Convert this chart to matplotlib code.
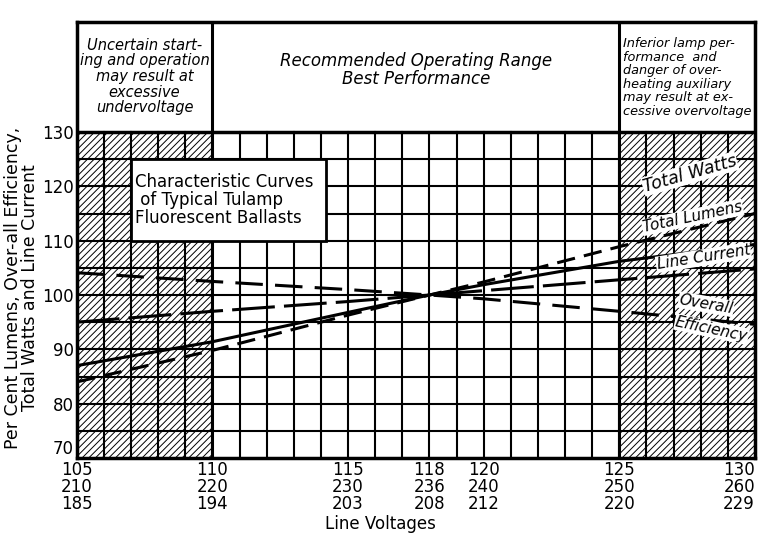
import matplotlib.pyplot as plt
from matplotlib.patches import Rectangle

# line voltages (three rated systems) and per cent values
volts = [105, 110, 115, 118, 120, 125, 130]
tick_volts = [105, 110, 115, 118, 120, 125, 130]
tick_240 = [210, 220, 230, 236, 240, 250, 260]
tick_208 = [185, 194, 203, 208, 212, 220, 229]

total_watts = [84.0, 89.8, 96.3, 100, 102.4, 108.9, 115.0]
total_lumens = [87.0, 91.4, 96.8, 100, 101.9, 106.2, 109.3]
line_current = [95.0, 97.0, 98.8, 100, 100.8, 102.8, 104.8]
efficiency = [104.1, 102.5, 101.0, 100, 99.3, 97.0, 94.6]

plt.rcParams['hatch.linewidth'] = 0.7
hand = ['DejaVu Sans']

fig = plt.figure(figsize=(7.68, 5.36), dpi=100)
ax = fig.add_axes([0.100, 0.1455, 0.883, 0.8135])
ax.set_xlim(105, 130)
ax.set_ylim(70, 150.25)

# hatched zones
for x0 in (105, 125):
    ax.add_patch(Rectangle((x0, 70), 5, 60, facecolor='white', edgecolor='black',
                           hatch='/////', linewidth=1, zorder=1))

# grid
for v in range(106, 130):
    ax.plot([v, v], [70, 130], color='black', lw=1.5, zorder=2)
for p in range(75, 130, 5):
    ax.plot([105, 130], [p, p], color='black', lw=1.5, zorder=2)

# header boxes
ax.plot([105, 130], [130, 130], color='black', lw=2.5, zorder=3)
for v in (110, 125):
    ax.plot([v, v], [70, 150.25], color='black', lw=2.2, zorder=3)

for s in ax.spines.values():
    s.set_linewidth(2.5)

# curves
ax.plot(volts, total_watts, color='black', lw=2.2, dashes=(6, 3), zorder=4)
ax.plot(volts, total_lumens, color='black', lw=2.2, zorder=4)
ax.plot(volts, line_current, color='black', lw=2.2, dashes=(14, 3), zorder=4)
ax.plot(volts, efficiency, color='black', lw=2.2, dashes=(9, 4), zorder=4)

box = dict(facecolor='white', edgecolor='none', pad=0.5)
ax.text(127.6, 122.3, 'Total Watts', rotation=16, fontsize=12.5, style='italic',
        family=hand, ha='center', va='center', bbox=box, zorder=5)
ax.text(127.7, 114.3, 'Total Lumens', rotation=12, fontsize=11, style='italic',
        family=hand, ha='center', va='center', bbox=box, zorder=5)
ax.text(128.1, 106.9, 'Line Current', rotation=9, fontsize=11, style='italic',
        family=hand, ha='center', va='center', bbox=box, zorder=5)
ax.text(128.2, 98.3, 'Overall', rotation=-10, fontsize=11, style='italic',
        family=hand, ha='center', va='center', bbox=box, zorder=5)
ax.text(128.4, 93.7, 'Efficiency', rotation=-12, fontsize=11, style='italic',
        family=hand, ha='center', va='center', bbox=box, zorder=5)

# title box inside grid
ax.add_patch(Rectangle((107, 110), 7.2, 15, facecolor='white', edgecolor='black',
                       lw=2, zorder=5))
ax.text(107.15, 117.5, 'Characteristic Curves\n of Typical Tulamp\nFluorescent Ballasts',
        fontsize=12, ha='left', va='center', linespacing=1.0, zorder=6)

# header texts
ax.text(107.5, 140.2, 'Uncertain start-\ning and operation\nmay result at\nexcessive\nundervoltage',
        fontsize=10.5, style='italic', family=hand, ha='center', va='center',
        linespacing=1.05)
ax.text(117.5, 141.5, 'Recommended Operating Range\nBest Performance',
        fontsize=12, style='italic', family=hand, ha='center', va='center',
        linespacing=1.0)
ax.text(125.15, 140.0, 'Inferior lamp per-\nformance  and\ndanger of over-\nheating auxiliary\n'
        'may result at ex-\ncessive overvoltage',
        fontsize=9.3, style='italic', family=hand, ha='left', va='center',
        linespacing=1.05)

ax.set_xticks(tick_volts)
ax.set_xticklabels([f'{a}\n{b}\n{c}' for a, b, c in zip(tick_volts, tick_240, tick_208)],
                   fontsize=12, linespacing=0.95)
ax.get_xticklabels()[-1].set_ha('right')
ax.get_xticklabels()[-1].set_x(130.1)
ax.set_yticks(range(70, 131, 10))
ax.set_yticklabels([str(v) for v in range(70, 131, 10)], fontsize=12)
ax.get_yticklabels()[0].set_va('bottom')
ax.tick_params(length=0, pad=2)

ax.set_ylabel('Per Cent Lumens, Over-all Efficiency,\nTotal Watts and Line Current',
              fontsize=12.5, linespacing=0.95, labelpad=2, y=0.39)
fig.text(0.495, 0.006, 'Line Voltages', fontsize=12, ha='center', va='bottom')

fig.savefig('out.png', dpi=100)
